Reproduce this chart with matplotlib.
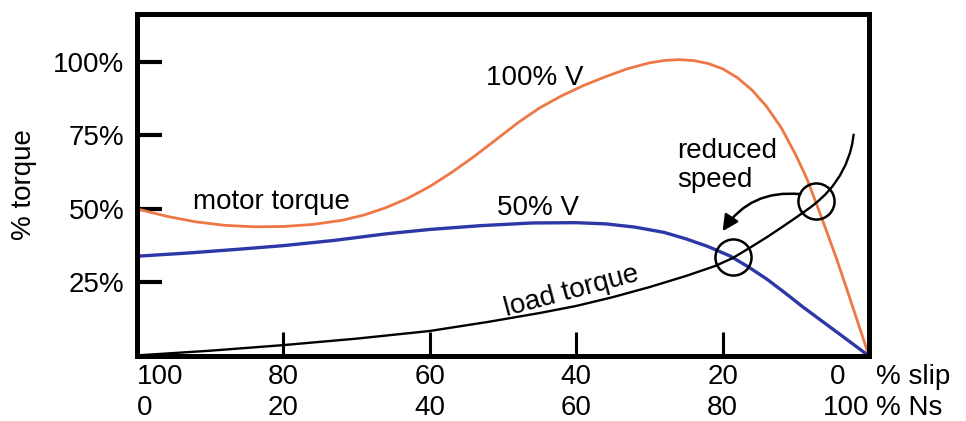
import matplotlib
matplotlib.use("Agg")
import matplotlib.pyplot as plt

plt.rcParams["font.family"] = ["Liberation Sans", "DejaVu Sans"]

# slip (%) and torque (%)
motor_slip = [100, 96, 92, 88, 84, 80, 76, 72, 69, 66, 63, 60, 57, 54, 51, 48, 45, 42,
              39, 36, 33, 30, 28, 26, 24, 22, 20, 18, 16, 14, 12, 10, 8.5, 7.5, 6, 4.5,
              3, 1.5, 0]
motor_full = [50.0, 47.5, 45.6, 44.4, 43.9, 44.0, 44.7, 46.1, 47.9, 50.4, 53.6, 57.6,
              62.4, 67.7, 73.4, 79.2, 84.3, 88.4, 91.9, 94.9, 97.6, 99.6, 100.4, 100.7,
              100.4, 99.4, 97.6, 94.6, 90.4, 84.8, 77.6, 68.3, 60.3, 53.8, 43.8, 33.5,
              22.5, 11.2, 0.0]

half_slip = [100, 93, 86, 80, 73, 66, 60, 53, 46, 40, 36, 32, 28, 25, 22, 19, 16.5, 14,
             11.5, 9, 6.5, 4, 2, 0]
motor_half = [33.9, 35.0, 36.3, 37.5, 39.3, 41.5, 43.0, 44.3, 45.2, 45.3, 44.9, 43.8,
              42.0, 39.8, 37.2, 34.0, 30.3, 26.2, 21.5, 16.6, 12.0, 7.4, 3.7, 0.0]

load_slip = [100, 90, 80, 70, 60, 52, 45, 40, 35, 30, 25, 21, 18.6, 16, 14, 12, 10, 8,
             7, 6, 5, 4, 3.2, 2.6, 2.3, 2.1]
load = [0.2, 1.8, 3.7, 5.9, 8.5, 11.6, 14.6, 17.0, 20.0, 23.4, 27.2, 30.6, 33.3, 37.2,
        40.3, 43.6, 47.0, 50.5, 52.5, 54.8, 57.6, 61.2, 65.0, 69.0, 72.0, 75.2]

# operating points (slip, torque)
op_slip = [7.2, 18.6]
op_torque = [52.8, 33.5]

slip_ticks = [100, 80, 60, 40, 20, 0]
slip_labels = ["100", "80", "60", "40", "20", "0"]
ns_labels = ["0", "20", "40", "60", "80", "100"]
torque_ticks = [25, 50, 75, 100]
torque_labels = ["25%", "50%", "75%", "100%"]

FS = 20
orange = "#ee7845"
blue = "#2c38a6"

fig = plt.figure(figsize=(9.66, 4.21), dpi=100)
ax = fig.add_axes([0.1418, 0.1544, 0.7578, 0.8123])

ax.plot(motor_slip, motor_full, color=orange, lw=2.0, solid_capstyle="round",
        solid_joinstyle="round")
ax.plot(half_slip, motor_half, color=blue, lw=2.4, solid_capstyle="round",
        solid_joinstyle="round")
ax.plot(load_slip, load, color="black", lw=1.7, solid_capstyle="round",
        solid_joinstyle="round")
ax.plot(op_slip, op_torque, "o", ms=26, mfc="none", mec="black", mew=1.8)

ax.annotate("", xy=(20.0, 42.4), xytext=(9.4, 55.0),
            arrowprops=dict(arrowstyle="-|>", color="black", lw=1.8,
                            mutation_scale=24, shrinkA=0, shrinkB=0,
                            connectionstyle="arc3,rad=0.3"))

ax.set_xlim(100, 0)
ax.set_ylim(0, 116.2)

for sp in ax.spines.values():
    sp.set_linewidth(3.6)

ax.set_yticks(torque_ticks, torque_labels)
ax.tick_params(axis="y", direction="in", length=18, width=3, pad=9, labelsize=FS)
ax.set_xticks(slip_ticks[1:-1], [])
ax.tick_params(axis="x", direction="in", length=17, width=2.2)

ax.set_ylabel("% torque", fontsize=FS, va="center")
ax.yaxis.set_label_coords(-0.154, 0.5)

# two rows of x labels: slip and synchronous speed
tr = ax.get_xaxis_transform()
for i, s in enumerate(slip_ticks):
    if i == 0:
        x, ha = s, "left"
    elif i == len(slip_ticks) - 1:
        x, ha = s + 5.4, "left"
    else:
        x, ha = s, "center"
    ax.text(x, -0.062, slip_labels[i], transform=tr, ha=ha, va="center", fontsize=FS)
    if i == len(slip_ticks) - 1:
        ax.text(s, -0.153, ns_labels[i], transform=tr, ha="right", va="center", fontsize=FS)
    else:
        ax.text(x, -0.153, ns_labels[i], transform=tr, ha=ha, va="center", fontsize=FS)
ax.text(-1.0, -0.062, "% slip", transform=tr, ha="left", va="center", fontsize=FS)
ax.text(-1.0, -0.153, "% Ns", transform=tr, ha="left", va="center", fontsize=FS)

ax.text(92.4, 49.8, "motor torque", fontsize=FS, va="baseline")
ax.text(52.3, 92.2, "100% V", fontsize=FS, va="baseline")
ax.text(50.8, 48.0, "50% V", fontsize=FS, va="baseline")
ax.text(26.2, 57.5, "reduced\nspeed", fontsize=FS, va="baseline", linespacing=1.15)
ax.text(40.7, 21.8, "load torque", fontsize=FS, ha="center", va="center",
        rotation=15, rotation_mode="anchor")

fig.savefig("out.png", dpi=100)
